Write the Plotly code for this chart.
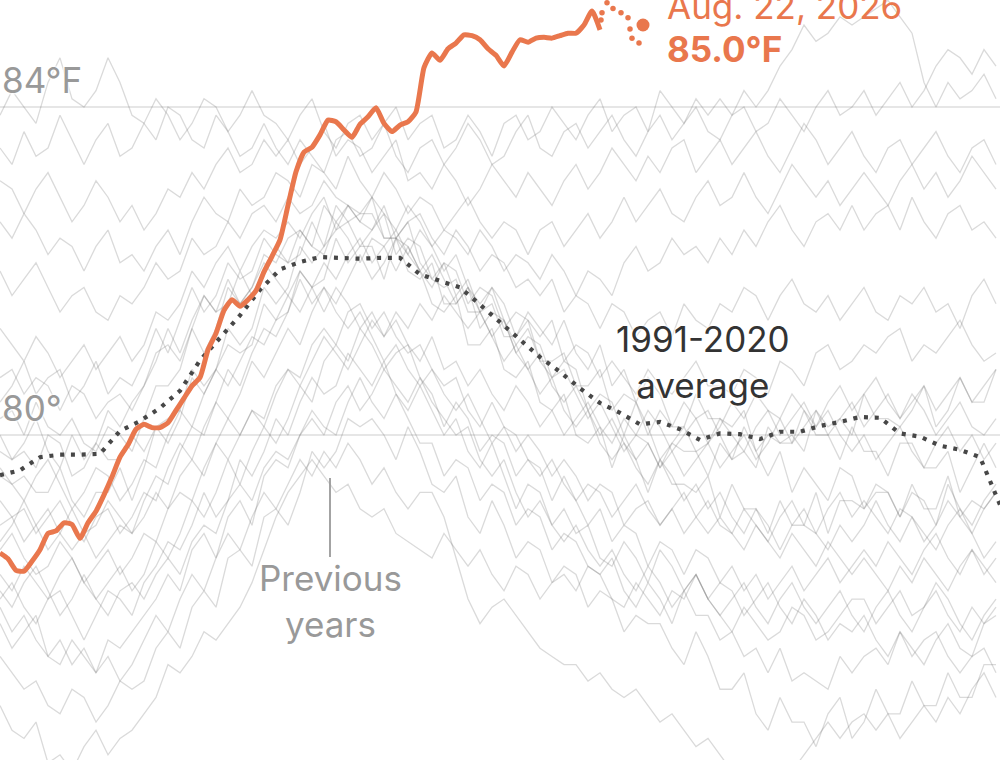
import plotly.graph_objects as go

# x axis: days from the left edge of the window, one gray point every 3 days
prev_days = list(range(0, 252, 3))

prev_a = [83.9, 84.2, 84.0, 83.8, 84.3, 84.6, 84.1, 84.0, 84.2, 84.6, 84.3, 83.9,
          83.8, 84.1, 83.9, 83.6, 83.8, 84.1, 84.0, 83.7, 83.9, 84.2, 83.9, 83.8,
          83.6, 83.9, 84.1, 83.7, 83.5, 83.8, 83.9, 83.6, 83.8, 84.0, 83.6, 83.8,
          83.9, 83.5, 83.6, 83.9, 83.7, 83.4, 83.8, 83.9, 83.6, 83.7, 84.0, 83.8,
          83.6, 83.9, 84.1, 83.7, 83.9, 84.0, 83.7, 84.2, 84.0, 83.8, 84.1, 83.9,
          84.1, 83.9, 84.2, 84.0, 84.2, 84.5, 84.7, 85.0, 84.8, 84.9, 85.1, 85.0,
          85.1, 85.2, 85.3, 85.1, 84.9, 84.3, 84.0, 84.3, 84.1, 84.2, 84.4, 84.1]
prev_b = [83.5, 83.3, 83.7, 83.4, 83.5, 83.9, 83.6, 83.3, 83.6, 83.8, 83.4, 83.5,
          83.8, 83.6, 84.0, 83.9, 83.6, 83.5, 83.9, 83.7, 83.4, 83.5, 83.8, 83.5,
          83.3, 83.6, 83.4, 83.2, 83.6, 83.7, 83.4, 83.5, 83.8, 83.4, 83.2, 83.5,
          83.6, 83.3, 83.5, 83.8, 83.6, 83.3, 83.4, 83.7, 83.9, 83.5, 83.4, 83.7,
          83.8, 83.5, 83.7, 83.9, 83.6, 83.4, 83.7, 83.9, 83.6, 83.8, 84.0, 83.7,
          83.6, 83.9, 84.0, 83.7, 83.8, 84.1, 83.9, 83.7, 84.0, 84.2, 83.9, 84.0,
          84.2, 83.9, 84.1, 84.3, 84.0, 84.2, 84.5, 84.7, 84.6, 84.4, 84.7, 84.5]
prev_c = [83.1, 83.0, 82.7, 83.0, 83.2, 82.9, 82.6, 82.8, 83.1, 82.9, 82.6, 82.8,
          82.5, 82.7, 83.0, 82.9, 83.2, 83.0, 83.3, 83.5, 83.2, 83.3, 83.6, 83.4,
          83.6, 83.3, 83.5, 83.8, 83.4, 83.6, 83.5, 83.2, 83.4, 83.6, 83.1, 83.2,
          83.0, 83.3, 83.1, 82.8, 83.0, 83.3, 83.1, 82.9, 83.2, 83.0, 82.8, 83.1,
          83.3, 83.0, 83.2, 83.5, 83.3, 83.1, 83.4, 83.2, 83.5, 83.6, 83.2, 83.4,
          83.6, 83.3, 83.5, 83.7, 83.4, 83.2, 83.5, 83.8, 83.6, 83.3, 83.5, 83.7,
          83.4, 83.2, 83.5, 83.6, 83.3, 83.5, 83.7, 83.4, 83.2, 83.5, 83.6, 83.3]
prev_d = [82.6, 82.4, 82.7, 82.5, 82.2, 82.4, 82.3, 82.0, 82.3, 82.5, 82.1, 82.2,
          82.0, 82.3, 82.5, 82.2, 82.6, 82.9, 82.7, 82.6, 83.0, 82.8, 82.9, 83.2,
          83.1, 82.9, 83.3, 83.2, 83.0, 83.4, 83.1, 82.9, 83.2, 83.0, 82.7, 82.9,
          82.8, 82.5, 82.7, 82.9, 82.6, 82.4, 82.6, 82.5, 82.2, 82.5, 82.6, 82.3,
          82.5, 82.7, 82.4, 82.6, 82.9, 82.6, 82.8, 83.0, 82.7, 82.6, 82.9, 83.1,
          82.8, 82.9, 83.2, 82.9, 82.7, 83.0, 83.3, 83.1, 82.9, 83.1, 82.8, 83.0,
          83.2, 83.0, 82.8, 83.1, 83.3, 83.0, 83.2, 82.9, 83.1, 83.4, 83.2, 83.0]
prev_e = [82.0, 81.7, 81.9, 82.1, 81.8, 81.5, 81.7, 81.8, 81.5, 81.4, 81.7, 81.6,
          81.8, 82.1, 81.9, 82.0, 82.4, 82.2, 82.3, 82.6, 82.4, 82.7, 82.8, 82.6,
          82.9, 82.7, 82.8, 83.1, 82.9, 82.8, 82.6, 82.9, 82.7, 82.5, 82.8, 82.6,
          82.3, 82.5, 82.4, 82.2, 82.5, 82.3, 82.0, 82.2, 82.1, 81.9, 82.2, 82.0,
          81.7, 82.0, 81.9, 81.7, 82.1, 82.3, 82.0, 82.1, 82.4, 82.2, 82.3, 82.1,
          82.4, 82.2, 82.5, 82.3, 82.6, 82.8, 82.5, 82.3, 82.6, 82.7, 82.5, 82.8,
          82.5, 82.7, 82.8, 82.5, 82.9, 82.6, 82.4, 82.7, 82.8, 82.5, 82.6, 82.4]
prev_f = [81.3, 81.1, 80.9, 81.2, 81.0, 80.7, 80.9, 81.1, 80.8, 81.0, 81.2, 80.9,
          81.1, 81.5, 81.4, 81.6, 82.0, 81.8, 82.1, 82.3, 82.0, 82.3, 82.5, 82.4,
          82.6, 82.4, 82.7, 82.9, 82.5, 82.8, 82.6, 82.5, 82.8, 82.4, 82.6, 82.7,
          82.4, 82.2, 82.5, 82.3, 82.0, 82.2, 82.1, 81.8, 81.9, 81.7, 81.9, 81.5,
          81.7, 81.6, 81.3, 81.6, 81.5, 81.2, 81.4, 81.5, 81.2, 81.6, 81.4, 81.3,
          81.6, 81.5, 81.8, 81.7, 81.4, 81.7, 81.9, 81.6, 81.5, 81.7, 81.4, 81.6,
          81.8, 81.5, 81.4, 81.7, 81.6, 81.8, 81.5, 81.6, 81.3, 81.7, 81.9, 81.6]
prev_g = [80.7, 80.8, 80.5, 80.7, 80.6, 80.3, 80.6, 80.5, 80.2, 80.4, 80.5, 80.3,
          80.6, 81.0, 81.1, 80.9, 81.3, 81.7, 81.5, 81.6, 82.0, 81.7, 82.0, 82.3,
          82.1, 82.2, 82.6, 82.3, 82.5, 82.6, 82.3, 82.5, 82.7, 82.2, 82.4, 82.3,
          81.9, 82.1, 82.0, 81.6, 81.8, 81.7, 81.3, 81.5, 81.4, 81.2, 81.4, 80.9,
          81.1, 81.0, 80.7, 80.9, 80.7, 80.5, 80.8, 80.6, 80.5, 80.7, 80.9, 80.6,
          80.6, 80.5, 80.8, 80.7, 80.5, 80.9, 80.8, 80.6, 81.0, 81.1, 80.8, 80.9,
          81.1, 81.0, 81.2, 81.3, 80.9, 81.1, 81.0, 81.2, 81.4, 81.1, 80.9, 81.0]
prev_h = [80.2, 80.3, 80.0, 80.4, 80.1, 80.0, 80.2, 79.9, 79.8, 80.1, 80.0, 79.8,
          80.2, 80.6, 80.6, 80.8, 81.3, 81.0, 81.3, 81.8, 81.6, 81.8, 82.2, 82.1,
          82.4, 82.5, 82.3, 82.8, 82.6, 82.8, 82.7, 82.9, 82.4, 82.4, 82.6, 82.1,
          81.9, 81.8, 81.9, 81.5, 81.5, 81.6, 81.2, 81.2, 81.4, 80.9, 80.9, 81.0,
          80.6, 80.6, 80.8, 80.3, 80.5, 80.4, 80.0, 80.3, 80.1, 80.1, 80.5, 80.2,
          80.2, 80.1, 80.3, 79.8, 80.0, 79.9, 79.9, 80.3, 80.0, 80.0, 79.7, 80.1,
          79.8, 79.8, 79.5, 79.9, 79.9, 79.6, 79.6, 79.8, 79.3, 79.6, 79.9, 79.6]
prev_i = [79.8, 79.7, 79.8, 79.6, 80.0, 79.9, 79.5, 79.6, 79.9, 79.7, 79.7, 80.0,
          79.8, 80.1, 80.2, 80.3, 80.8, 80.6, 80.8, 81.1, 81.0, 81.1, 81.6, 81.4,
          81.5, 82.0, 81.8, 81.9, 82.4, 82.1, 82.3, 82.3, 81.9, 82.4, 82.0, 81.9,
          82.1, 81.6, 81.6, 81.8, 81.3, 81.5, 81.4, 81.0, 81.2, 81.1, 80.7, 80.9,
          80.8, 80.3, 80.5, 80.4, 80.0, 80.4, 80.1, 79.7, 79.9, 79.8, 79.8, 79.5,
          79.9, 79.7, 79.8, 79.6, 80.1, 79.9, 80.0, 79.8, 80.3, 80.1, 80.2, 80.0,
          80.5, 80.2, 80.2, 80.1, 80.3, 80.6, 80.1, 80.3, 80.7, 80.4, 80.4, 80.8]
prev_j = [79.5, 79.4, 79.5, 79.3, 79.3, 79.6, 79.2, 79.0, 79.3, 79.3, 79.6, 79.2,
          79.6, 80.1, 79.9, 80.2, 80.7, 80.5, 80.8, 81.3, 81.1, 81.3, 81.8, 81.6,
          81.8, 82.3, 82.1, 82.3, 82.8, 82.6, 82.7, 82.7, 82.4, 82.4, 82.3, 82.0,
          81.6, 81.5, 81.7, 81.1, 81.1, 81.3, 80.8, 80.7, 80.9, 80.4, 80.3, 80.5,
          80.0, 79.9, 80.1, 79.6, 80.0, 79.7, 79.3, 79.7, 79.4, 79.4, 79.3, 79.5,
          79.0, 79.4, 79.1, 79.1, 78.8, 79.2, 78.9, 78.9, 79.3, 78.8, 79.2, 79.2,
          79.1, 79.3, 79.3, 79.0, 79.4, 79.1, 79.1, 79.5, 79.0, 79.2, 79.1, 79.3]
prev_k = [79.2, 79.0, 79.1, 78.8, 79.0, 79.2, 78.9, 78.7, 79.0, 79.1, 78.8, 79.0,
          79.3, 79.2, 79.6, 79.9, 79.7, 80.1, 80.4, 80.2, 80.5, 80.9, 80.7, 81.0,
          81.3, 81.1, 81.5, 81.8, 81.6, 81.9, 82.2, 81.9, 82.1, 82.4, 82.2, 82.5,
          82.3, 82.0, 82.2, 81.8, 81.6, 81.8, 81.4, 81.1, 81.3, 80.9, 80.7, 80.8,
          80.5, 80.2, 80.4, 80.1, 79.8, 80.0, 79.9, 79.6, 79.9, 80.1, 79.8, 79.9,
          80.2, 80.0, 79.8, 80.1, 80.3, 80.2, 80.5, 80.3, 80.1, 80.4, 80.6, 80.3,
          80.5, 80.7, 80.4, 80.2, 80.5, 80.3, 80.0, 80.2, 80.4, 80.1, 80.0, 80.2]
prev_l = [78.9, 79.0, 78.7, 78.9, 79.1, 78.8, 78.6, 78.8, 78.5, 78.7, 78.9, 78.8,
          79.2, 79.5, 79.4, 79.8, 80.1, 80.0, 80.4, 80.8, 80.6, 81.0, 81.3, 81.2,
          81.5, 81.9, 81.6, 81.8, 81.5, 81.3, 81.5, 81.2, 80.9, 81.1, 80.8, 80.6,
          80.8, 80.5, 80.3, 80.5, 80.2, 79.9, 80.1, 80.0, 79.7, 79.5, 79.7, 79.4,
          79.2, 79.4, 79.3, 79.0, 79.2, 79.4, 79.1, 78.9, 79.1, 78.8, 79.0, 79.2,
          78.9, 78.8, 79.1, 78.9, 78.7, 79.0, 79.2, 78.9, 78.8, 79.1, 79.3, 79.0,
          79.2, 79.0, 78.8, 79.1, 79.0, 78.7, 78.9, 79.2, 79.0, 78.8, 79.1, 79.3]
prev_m = [78.6, 78.8, 78.5, 78.3, 78.4, 78.7, 78.5, 78.2, 78.4, 78.6, 78.3, 78.5,
          78.8, 78.7, 79.1, 79.3, 79.2, 79.6, 79.9, 79.7, 80.0, 80.3, 80.2, 80.6,
          80.8, 80.7, 81.1, 81.3, 81.1, 81.5, 81.6, 81.3, 81.5, 81.2, 81.0, 81.1,
          80.8, 80.6, 80.7, 80.3, 80.1, 80.4, 80.1, 79.8, 80.0, 79.8, 79.5, 79.7,
          79.5, 79.2, 79.4, 79.3, 78.9, 79.1, 79.2, 78.9, 79.1, 79.3, 79.0, 78.8,
          79.0, 78.8, 78.6, 78.9, 78.7, 78.5, 78.8, 78.6, 78.4, 78.7, 78.5, 78.3,
          78.5, 78.3, 78.1, 78.4, 78.2, 78.5, 78.3, 78.1, 78.4, 78.6, 78.3, 78.5]
prev_n = [78.3, 78.1, 78.4, 78.2, 78.0, 78.3, 78.5, 78.2, 78.0, 78.2, 78.4, 78.1,
          78.3, 78.7, 78.5, 78.8, 79.2, 79.0, 79.3, 79.7, 79.4, 79.8, 80.1, 79.9,
          80.2, 80.6, 80.4, 80.9, 81.1, 80.9, 81.3, 81.1, 80.8, 81.0, 81.1, 80.7,
          80.5, 80.1, 80.4, 80.2, 79.8, 80.0, 79.9, 79.5, 79.7, 79.6, 79.2, 79.5,
          79.2, 78.9, 79.1, 78.7, 78.9, 78.8, 78.4, 78.7, 78.6, 78.3, 78.6, 78.5,
          78.2, 78.4, 78.1, 78.3, 78.0, 78.2, 78.4, 78.1, 78.3, 78.5, 78.2, 78.4,
          78.6, 78.4, 78.7, 78.5, 78.3, 78.6, 78.8, 78.5, 78.3, 78.6, 78.4, 78.2]
prev_o = [78.0, 78.2, 77.9, 77.7, 78.0, 78.1, 77.8, 77.5, 77.8, 78.1, 78.0, 77.8,
          78.2, 78.4, 78.7, 78.6, 78.9, 79.3, 79.0, 79.2, 79.7, 79.5, 79.8, 80.2,
          80.0, 80.4, 80.7, 80.5, 80.6, 81.0, 80.8, 80.6, 80.9, 80.5, 80.3, 80.6,
          80.3, 80.0, 80.2, 79.8, 79.6, 79.9, 79.5, 79.1, 79.4, 79.3, 78.9, 79.1,
          78.8, 78.9, 78.5, 78.4, 78.7, 78.5, 78.2, 78.6, 78.4, 78.1, 78.3, 78.0,
          78.2, 78.1, 77.8, 78.0, 78.2, 77.9, 77.7, 78.0, 77.8, 77.5, 77.7, 77.6,
          77.8, 77.5, 77.3, 77.6, 77.4, 77.2, 77.5, 77.7, 77.4, 77.3, 77.7, 77.9]
prev_p = [77.7, 77.4, 77.6, 77.8, 77.3, 77.2, 77.5, 77.3, 77.1, 77.5, 77.4, 77.6,
          77.8, 78.0, 78.3, 78.1, 78.6, 78.8, 78.5, 79.0, 79.2, 78.9, 79.5, 79.7,
          79.6, 80.0, 80.3, 80.1, 80.0, 80.4, 80.7, 80.4, 80.2, 80.5, 80.2, 79.9,
          79.9, 79.5, 79.7, 79.6, 79.2, 79.4, 79.3, 78.9, 79.1, 79.0, 78.6, 78.8,
          78.7, 78.4, 78.3, 78.5, 78.1, 77.9, 78.2, 78.0, 77.7, 78.1, 77.8, 77.8,
          77.5, 77.6, 77.3, 77.4, 77.1, 77.4, 77.0, 77.1, 77.0, 76.9, 77.3, 77.1,
          77.3, 77.4, 77.2, 77.6, 77.3, 77.5, 77.6, 77.3, 77.1, 77.3, 77.4, 77.1]
prev_q = [77.3, 77.1, 76.9, 77.0, 76.7, 76.6, 76.9, 76.8, 76.5, 76.7, 77.0, 76.9,
          77.0, 77.4, 77.6, 77.4, 77.9, 78.1, 77.9, 78.5, 78.6, 78.4, 79.0, 79.1,
          78.9, 79.3, 79.8, 79.6, 79.8, 80.2, 80.1, 80.2, 80.0, 79.7, 80.1, 79.8,
          79.4, 79.3, 79.5, 79.0, 78.8, 79.2, 78.9, 78.5, 78.7, 78.6, 78.2, 78.4,
          78.3, 77.9, 78.1, 78.0, 77.6, 77.8, 77.7, 77.7, 77.4, 77.2, 77.6, 77.3,
          76.9, 76.9, 77.1, 76.6, 76.4, 76.8, 76.5, 76.5, 76.2, 76.6, 76.8, 76.3,
          76.5, 76.9, 76.6, 76.6, 77.0, 76.7, 76.7, 77.1, 76.8, 76.8, 77.2, 77.2]
prev_r = [76.7, 76.4, 76.3, 76.5, 76.0, 76.1, 75.9, 76.2, 76.4, 76.1, 76.3, 76.4,
          76.6, 76.8, 77.2, 77.1, 77.3, 77.6, 77.5, 77.7, 77.9, 78.2, 78.6, 79.0,
          79.3, 79.5, 79.7, 79.5, 79.3, 79.4, 79.1, 79.0, 79.1, 78.8, 78.7, 78.6,
          78.5, 78.8, 78.6, 78.4, 78.6, 78.3, 78.1, 78.4, 78.3, 78.0, 78.2, 78.3,
          78.1, 78.4, 78.3, 78.0, 77.9, 78.2, 78.0, 77.8, 78.1, 78.0, 78.3, 78.0,
          77.8, 77.6, 77.9, 77.7, 77.5, 77.6, 77.9, 77.8, 77.5, 77.6, 77.8, 78.0,
          78.0, 77.7, 77.9, 78.1, 77.8, 77.9, 78.1, 77.8, 77.6, 77.9, 77.7, 77.8]
prev_s = [77.9, 77.6, 77.8, 77.5, 77.3, 77.5, 77.2, 77.4, 77.1, 77.3, 77.0, 77.2,
          77.5, 77.8, 77.6, 78.0, 78.3, 78.1, 78.5, 78.8, 78.6, 79.0, 79.3, 79.1,
          79.4, 79.7, 79.5, 79.8, 79.6, 79.9, 79.7, 79.4, 79.6, 79.3, 79.1, 79.3,
          79.3, 79.0, 78.5, 78.0, 77.7, 77.9, 78.0, 77.8, 77.6, 77.4, 77.3, 77.2,
          77.2, 77.0, 77.1, 76.9, 76.8, 76.9, 76.7, 76.5, 76.6, 76.4, 76.2, 76.3,
          76.1, 75.9, 76.0, 75.8, 75.6, 75.8, 75.9, 76.1, 76.3, 76.5, 76.3, 76.5,
          76.6, 76.4, 76.6, 76.3, 76.5, 76.7, 76.5, 76.8, 76.6, 76.9, 77.1, 76.8]
prev_t = [80.4, 80.6, 80.9, 80.5, 80.7, 80.8, 80.4, 80.6, 80.9, 80.5, 80.7, 80.6,
          80.9, 81.3, 81.0, 81.4, 81.8, 81.5, 81.7, 82.1, 81.9, 82.0, 82.4, 82.2,
          82.1, 82.5, 82.3, 82.2, 82.6, 82.4, 82.1, 82.4, 82.3, 82.0, 82.3, 82.0,
          81.8, 82.1, 81.7, 81.9, 81.5, 81.8, 81.6, 81.2, 81.5, 81.3, 81.1, 81.4,
          81.0, 80.8, 81.1, 80.6, 80.8, 80.4, 80.7, 80.5, 80.1, 80.4, 80.2, 80.3,
          80.0, 79.7, 80.1, 79.8, 79.5, 79.8, 79.3, 79.6, 79.4, 79.2, 79.6, 79.5,
          79.1, 79.4, 79.3, 79.0, 79.3, 79.2, 78.9, 79.4, 79.1, 78.9, 79.2, 79.4]
prev_u = [80.0, 79.7, 79.9, 80.2, 79.8, 79.6, 80.0, 79.7, 79.9, 80.3, 80.1, 80.4,
          80.6, 80.9, 81.3, 81.0, 81.4, 81.7, 81.5, 81.9, 81.6, 81.8, 82.1, 81.9,
          81.7, 82.0, 81.8, 81.5, 81.8, 81.6, 81.3, 81.5, 81.2, 81.4, 81.1, 80.9,
          81.2, 80.8, 80.9, 80.6, 80.8, 80.5, 80.3, 80.6, 80.4, 80.1, 80.3, 80.0,
          80.2, 80.4, 80.1, 79.9, 80.2, 80.0, 80.3, 80.1, 79.8, 80.0, 80.2, 79.9,
          80.1, 80.4, 80.2, 80.5, 80.3, 80.0, 80.2, 80.4, 80.1, 80.3, 80.0, 79.8,
          80.0, 79.7, 79.9, 80.1, 79.8, 79.6, 79.9, 80.1, 79.8, 80.0, 79.7, 79.9]
prev_v = [78.7, 78.9, 79.2, 78.9, 78.6, 78.8, 79.1, 78.8, 78.9, 79.2, 79.0, 78.8,
          79.0, 79.3, 79.1, 79.5, 79.7, 79.5, 79.9, 80.2, 80.0, 80.3, 80.1, 80.5,
          80.8, 80.6, 80.9, 81.2, 81.0, 80.8, 81.1, 81.4, 81.2, 81.5, 81.3, 81.6,
          81.4, 81.7, 81.5, 81.3, 81.5, 81.2, 80.9, 81.1, 80.8, 80.5, 80.7, 80.3,
          80.1, 80.3, 79.9, 79.7, 79.9, 79.6, 79.4, 79.7, 79.5, 79.2, 79.4, 79.1,
          79.3, 79.0, 78.8, 79.1, 78.9, 78.6, 78.9, 79.1, 78.8, 78.6, 78.9, 78.7,
          78.9, 79.2, 78.9, 78.7, 79.0, 78.8, 78.6, 78.9, 79.1, 78.8, 78.5, 78.7]
prev_w = [79.6, 79.4, 79.2, 79.5, 79.7, 79.4, 79.1, 79.3, 79.6, 79.5, 79.2, 79.4,
          79.7, 79.6, 80.0, 80.3, 80.1, 80.5, 80.8, 80.6, 80.9, 81.2, 81.1, 81.4,
          81.7, 81.5, 81.8, 82.1, 81.9, 82.2, 82.4, 82.1, 82.3, 82.5, 82.2, 82.0,
          82.2, 81.9, 81.6, 81.8, 81.5, 81.2, 81.4, 81.0, 80.8, 81.0, 80.6, 80.4,
          80.6, 80.3, 80.0, 80.2, 79.9, 79.7, 79.9, 79.6, 79.8, 79.5, 79.7, 79.9,
          79.6, 79.8, 80.0, 79.7, 79.9, 80.2, 79.9, 80.1, 80.3, 80.0, 80.2, 80.4,
          80.1, 80.3, 80.5, 80.2, 80.4, 80.6, 80.3, 80.5, 80.7, 80.4, 80.6, 80.8]
prev_x = [78.1, 77.9, 78.2, 78.4, 78.1, 77.8, 78.0, 78.3, 78.0, 77.8, 78.1, 78.2,
          78.0, 78.3, 78.5, 78.3, 78.7, 78.9, 78.8, 79.2, 79.4, 79.2, 79.6, 79.8,
          79.7, 80.0, 80.2, 80.0, 80.4, 80.6, 80.3, 80.5, 80.8, 80.6, 80.4, 80.7,
          80.4, 80.2, 80.0, 80.1, 79.7, 79.5, 79.7, 79.3, 79.0, 79.2, 78.9, 78.7,
          78.9, 78.6, 78.4, 78.6, 78.3, 78.1, 78.4, 78.2, 77.9, 78.1, 78.3, 78.0,
          77.8, 78.0, 78.2, 77.9, 77.7, 78.0, 78.2, 77.9, 77.7, 77.9, 78.1, 77.8,
          77.6, 77.9, 78.1, 77.8, 77.6, 77.9, 78.2, 78.0, 77.7, 77.5, 77.8, 78.0]

previous_years = [prev_a, prev_b, prev_c, prev_d, prev_e, prev_f, prev_g, prev_h,
                  prev_i, prev_j, prev_k, prev_l, prev_m, prev_n, prev_o, prev_p,
                  prev_q, prev_r, prev_s, prev_t, prev_u, prev_v, prev_w, prev_x]

# 1991-2020 average, every 5 days
avg_days = list(range(0, 255, 5))
avg_temp = [79.51, 79.57, 79.73, 79.76, 79.76, 79.77, 80.05, 80.17, 80.33, 80.54,
            80.91, 81.18, 81.46, 81.77, 82.02, 82.11, 82.17, 82.16, 82.15, 82.16,
            82.16, 81.96, 81.88, 81.80, 81.59, 81.38, 81.16, 80.95, 80.77, 80.57,
            80.39, 80.27, 80.13, 80.16, 80.07, 79.94, 80.02, 80.01, 79.95, 80.04,
            80.04, 80.11, 80.16, 80.22, 80.21, 80.02, 79.98, 79.87, 79.82, 79.73,
            79.15]

# 2026, every 2 days
year_days = list(range(0, 152, 2))
year_temp = [78.56, 78.49, 78.35, 78.34, 78.46, 78.60, 78.80, 78.83, 78.93, 78.91,
             78.74, 78.93, 79.07, 79.27, 79.49, 79.73, 79.88, 80.07, 80.13, 80.09,
             80.09, 80.15, 80.30, 80.45, 80.60, 80.70, 81.04, 81.24, 81.52, 81.65,
             81.57, 81.65, 81.76, 81.99, 82.18, 82.38, 82.80, 83.21, 83.45, 83.51,
             83.66, 83.84, 83.82, 83.72, 83.63, 83.79, 83.88, 83.99, 83.80, 83.70,
             83.78, 83.82, 83.94, 84.48, 84.66, 84.57, 84.71, 84.78, 84.88, 84.87,
             84.82, 84.71, 84.63, 84.50, 84.67, 84.82, 84.79, 84.84, 84.85, 84.84,
             84.87, 84.90, 84.90, 85.00, 85.17, 84.94]

# latest readings (dotted)
latest_days = [150.25, 150.5, 151.75, 153.25, 155.25, 157.0, 157.5, 158.0, 159.75]
latest_temp = [85.06, 85.15, 85.27, 85.20, 85.15, 85.09, 84.95, 84.84, 84.78]

last_day = 160.75
last_temp = 85.0

grid_vals = [76, 80, 84]
grid_text = ["76°", "80°", "84°F"]

ORANGE = "#e9774d"
GRAY_TEXT = "#999999"
FONT = "Inter"
HALO = "0 0 3px #fff, 0 0 3px #fff, 0 0 3px #fff, 0 0 3px #fff"

fig = go.Figure()

for temps in previous_years:
    fig.add_trace(go.Scatter(
        x=prev_days, y=temps, mode="lines",
        line=dict(color="rgba(95,95,95,0.23)", width=1.3),
        hoverinfo="skip",
    ))

fig.add_trace(go.Scatter(
    x=avg_days, y=avg_temp, mode="lines",
    line=dict(color="#474747", width=4.2, dash="4px,6.8px"),
    hoverinfo="skip",
))

fig.add_trace(go.Scatter(
    x=year_days, y=year_temp, mode="lines",
    line=dict(color=ORANGE, width=5, shape="spline", smoothing=0.5),
    hoverinfo="skip",
))

fig.add_trace(go.Scatter(
    x=latest_days, y=latest_temp, mode="markers",
    marker=dict(color=ORANGE, size=5.5),
    hoverinfo="skip",
))

fig.add_trace(go.Scatter(
    x=[last_day], y=[last_temp], mode="markers",
    marker=dict(color=ORANGE, size=13),
    hoverinfo="skip",
))

# axis labels sit above their gridlines
for val, txt in zip(grid_vals, grid_text):
    fig.add_annotation(
        x=0, xref="paper", xanchor="left", y=val, yref="y", yanchor="bottom",
        yshift=4, text=txt, showarrow=False,
        font=dict(family=FONT, size=35, color=GRAY_TEXT, shadow=HALO),
    )

fig.add_annotation(
    x=0.703, xref="paper", xanchor="center", y=1 - 362 / 760, yref="paper",
    yanchor="middle", text="1991-2020<br>average", showarrow=False, align="center",
    font=dict(family=FONT, size=35, color="#333333", shadow=HALO),
)

fig.add_annotation(
    x=0.330, xref="paper", xanchor="center", y=1 - 601 / 760, yref="paper",
    yanchor="middle", text="Previous<br>years", showarrow=False, align="center",
    font=dict(family=FONT, size=35, color=GRAY_TEXT, shadow=HALO),
)

# date label runs off the top edge, as in the original crop
fig.add_annotation(
    x=0.665, xref="paper", xanchor="left", y=1 - 6 / 760, yref="paper",
    yanchor="middle", text="Aug. 22, 2026", showarrow=False,
    font=dict(family=FONT, size=35, color=ORANGE),
)
fig.add_annotation(
    x=0.665, xref="paper", xanchor="left", y=1 - 49 / 760, yref="paper",
    yanchor="middle", text="<b>85.0°F</b>", showarrow=False,
    font=dict(family=FONT, size=35, color=ORANGE),
)

fig.add_shape(
    type="line", xref="paper", yref="paper",
    x0=0.330, x1=0.330, y0=1 - 478 / 760, y1=1 - 557 / 760,
    line=dict(color=GRAY_TEXT, width=1.8),
)

fig.update_layout(
    width=1000, height=760,
    margin=dict(l=0, r=0, t=0, b=0),
    paper_bgcolor="white", plot_bgcolor="white",
    showlegend=False,
    xaxis=dict(range=[0, 250], visible=False, fixedrange=True),
    yaxis=dict(
        range=[76.037, 85.305], tickvals=grid_vals, showticklabels=False,
        showgrid=True, gridcolor="#e6e6e6", gridwidth=1.5, zeroline=False,
        fixedrange=True,
    ),
)

fig.write_html(
    "out.html",
    config={"displayModeBar": False},
    post_script="document.body.style.margin = '0'; document.body.style.overflow = 'hidden';",
)
